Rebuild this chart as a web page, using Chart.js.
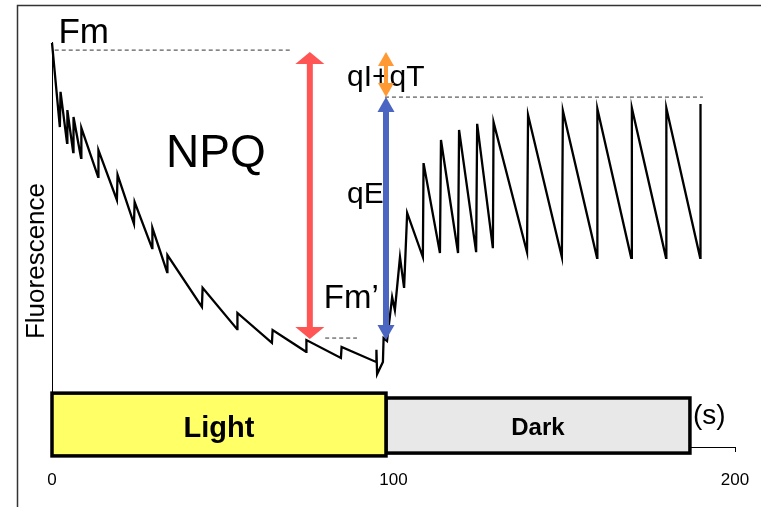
<!DOCTYPE html>
<html>
<head>
<meta charset="utf-8">
<script src="https://cdn.jsdelivr.net/npm/chart.js@4.4.1/dist/chart.umd.min.js"></script>
<style>
  html, body { margin: 0; padding: 0; background: #fff; }
</style>
</head>
<body>
<canvas id="chart" width="761" height="507"></canvas>
<script>
// time (s) and fluorescence (a.u.) of the trace
const timeS = [
  0, 2.3, 2.5, 4.4, 4.5, 6.2, 6.3, 8.5, 8.6, 13.5, 13.6, 19.0, 19.2, 24.0, 24.2,
  29.3, 29.4, 33.7, 33.8, 43.9, 44.1, 54.2, 54.3, 64.4, 64.6, 74.4, 74.5, 84.6, 84.8,
  94.9, 95.0, 95.2, 96.9, 97.1, 98.1, 99.6, 100.4, 101.9, 103.1, 104.0,
  108.6, 108.8, 113.6, 113.9, 118.9, 119.2, 124.2, 124.5, 129.1, 129.3,
  139.1, 139.4, 149.3, 149.6, 159.6, 159.7, 169.6, 169.8, 179.8, 179.9, 189.8, 189.9
];
const fluor = [
  99.8, 79.0, 87.7, 75.1, 83.2, 72.8, 81.5, 71.4, 78.8, 66.7, 73.3, 61.0, 67.2, 55.1, 60.5,
  49.1, 54.1, 43.2, 47.4, 34.6, 39.3, 29.1, 33.1, 25.7, 28.9, 23.5, 26.4, 22.0, 24.7,
  21.0, 24.0, 18.0, 21.0, 26.9, 26.2, 37.0, 33.8, 46.9, 39.3, 57.8,
  46.9, 70.1, 47.9, 75.8, 47.9, 78.3, 48.1, 79.8, 49.1, 80.2,
  48.1, 82.0, 46.9, 83.0, 46.7, 83.5, 46.7, 83.7, 46.7, 83.7, 46.7, 84.7
];
const xTicks = [0, 100, 200];

// reference levels (a.u.) and phases (s)
const fmLevel = 98;
const fmPrimeLevel = 26.9;
const steadyLevel = 86.4;
const lightPhase = [0, 97.8];
const darkPhase = [97.8, 186.8];

const FONT = "'Liberation Sans', Arial, sans-serif";

function doubleArrow(ctx, x, yTop, yBot, color, shaftW, headW, headH) {
  ctx.fillStyle = color;
  ctx.fillRect(x - shaftW / 2, yTop + headH - 1, shaftW, yBot - yTop - 2 * headH + 2);
  ctx.beginPath();
  ctx.moveTo(x, yTop);
  ctx.lineTo(x + headW / 2, yTop + headH);
  ctx.lineTo(x - headW / 2, yTop + headH);
  ctx.closePath();
  ctx.fill();
  ctx.beginPath();
  ctx.moveTo(x, yBot);
  ctx.lineTo(x + headW / 2, yBot - headH);
  ctx.lineTo(x - headW / 2, yBot - headH);
  ctx.closePath();
  ctx.fill();
}

const overlay = {
  id: "overlay",
  beforeDraw(chart) {
    // outer frame (only top and left edges show in the picture)
    const { ctx } = chart;
    ctx.save();
    ctx.fillStyle = "#fff";
    ctx.fillRect(0, 0, chart.width, chart.height);
    ctx.strokeStyle = "#333";
    ctx.lineWidth = 1.5;
    ctx.beginPath();
    ctx.moveTo(17.5, chart.height);
    ctx.lineTo(17.5, 5.5);
    ctx.lineTo(chart.width, 5.5);
    ctx.stroke();
    ctx.restore();
  },
  afterDatasetsDraw(chart) {
    const { ctx, scales: { x, y } } = chart;
    const px = (v) => x.getPixelForValue(v);
    const py = (v) => y.getPixelForValue(v);
    ctx.save();

    // dashed reference lines
    ctx.setLineDash([4, 3]);
    ctx.strokeStyle = "#333";
    ctx.lineWidth = 1;
    ctx.beginPath();
    ctx.moveTo(px(0.8), py(fmLevel)); ctx.lineTo(px(70.3), py(fmLevel));
    ctx.moveTo(px(80), py(fmPrimeLevel)); ctx.lineTo(px(89.3), py(fmPrimeLevel));
    ctx.moveTo(px(97.5), py(steadyLevel)); ctx.lineTo(px(190.6), py(steadyLevel));
    ctx.stroke();
    ctx.setLineDash([]);

    // labels
    ctx.fillStyle = "#000";
    ctx.textBaseline = "alphabetic";
    ctx.textAlign = "left";
    ctx.font = "35px " + FONT;
    ctx.fillText("Fm", px(1.9), py(fmLevel) - 7);
    ctx.font = "33px " + FONT;
    ctx.fillText("Fm\u2019", px(79.6), py(34.3));
    ctx.font = "46px " + FONT;
    ctx.textAlign = "center";
    ctx.fillText("NPQ", px(48), py(69.1));
    ctx.textAlign = "left";
    ctx.font = "30px " + FONT;
    ctx.fillText("qI+qT", px(86.4), py(89.1));
    ctx.fillText("qE", px(86.4), py(60.2));
    ctx.font = "28px " + FONT;
    ctx.fillText("(s)", px(187.7), py(5.7));

    // y axis title
    ctx.save();
    ctx.translate(x.left - 8, 261);
    ctx.rotate(-Math.PI / 2);
    ctx.textAlign = "center";
    ctx.font = "26px " + FONT;
    ctx.fillText("Fluorescence", 0, 0);
    ctx.restore();

    // arrows
    doubleArrow(ctx, px(75.5), py(fmLevel) + 2, py(fmPrimeLevel) + 1, "#ff5555", 6, 29, 12);
    doubleArrow(ctx, px(97.8), py(steadyLevel), py(fmPrimeLevel) + 2, "#4a65c2", 6, 17, 15);
    doubleArrow(ctx, px(97.8), py(fmLevel) + 2, py(steadyLevel), "#ff9933", 4, 16, 14);

    // light / dark phase boxes
    ctx.lineWidth = 3.5;
    ctx.strokeStyle = "#000";
    const dx0 = px(darkPhase[0]), dx1 = px(darkPhase[1]);
    const dy0 = py(12.1), dy1 = py(-1.5);
    ctx.fillStyle = "#e8e8e8";
    ctx.fillRect(dx0, dy0, dx1 - dx0, dy1 - dy0);
    ctx.strokeRect(dx0, dy0, dx1 - dx0, dy1 - dy0);
    const lx0 = px(lightPhase[0]), lx1 = px(lightPhase[1]);
    const ly0 = py(13.3), ly1 = py(-2.2);
    ctx.fillStyle = "#ffff66";
    ctx.fillRect(lx0, ly0, lx1 - lx0, ly1 - ly0);
    ctx.strokeRect(lx0, ly0, lx1 - lx0, ly1 - ly0);

    ctx.fillStyle = "#000";
    ctx.textAlign = "center";
    ctx.font = "bold 29px " + FONT;
    ctx.fillText("Light", (lx0 + lx1) / 2, ly1 - 19);
    ctx.font = "bold 24px " + FONT;
    ctx.fillText("Dark", (dx0 + dx1) / 2, dy1 - 18);

    ctx.restore();
  },
};

new Chart(document.getElementById("chart"), {
  type: "line",
  data: {
    datasets: [{
      data: timeS.map((t, i) => ({ x: t, y: fluor[i] })),
      borderColor: "#000",
      borderWidth: 2.3,
      pointRadius: 0,
      tension: 0,
      fill: false,
      clip: false,
    }],
  },
  options: {
    responsive: false,
    animation: false,
    devicePixelRatio: 1,
    layout: { padding: { left: 52, right: 26, top: 42, bottom: 0 } },
    plugins: { legend: { display: false }, tooltip: { enabled: false } },
    scales: {
      x: {
        type: "linear",
        min: 0,
        max: 200,
        afterBuildTicks: (s) => { s.ticks = xTicks.map((v) => ({ value: v })); },
        afterFit: (s) => { s.height = 60; s.paddingLeft = 0; s.paddingRight = 0; },
        grid: { display: true, drawOnChartArea: false, drawTicks: true, tickLength: 5, color: "#000", lineWidth: 1 },
        border: { display: true, color: "#000", width: 1 },
        ticks: { font: { family: FONT, size: 17 }, color: "#000", padding: 18, maxRotation: 0, autoSkip: false },
      },
      y: {
        type: "linear",
        min: 0,
        max: 100,
        afterFit: (s) => { s.width = 0; s.paddingTop = 0; s.paddingBottom = 0; },
        grid: { display: false },
        border: { display: true, color: "#000", width: 1 },
        ticks: { display: false },
      },
    },
  },
  plugins: [overlay],
});
</script>
</body>
</html>
